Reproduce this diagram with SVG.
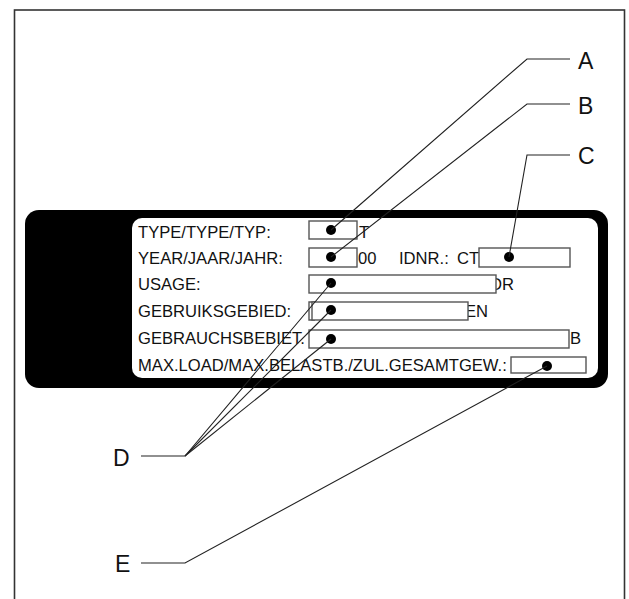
<svg xmlns="http://www.w3.org/2000/svg" width="629" height="599" viewBox="0 0 629 599">
<style>
.t{font-family:"Liberation Sans",Arial,sans-serif;font-size:16.6px;fill:#111}
.lbl{font-family:"Liberation Sans",Arial,sans-serif;font-size:23px;fill:#111}
.box{fill:#fff;stroke:#555;stroke-width:1.4}
.dot{fill:#000}
.ld{fill:none;stroke:#222;stroke-width:1.1}
</style>
<rect x="14.5" y="10" width="610" height="600" fill="#fff" stroke="#333" stroke-width="1.6"/>
<g id="plate">
<rect x="25" y="210" width="583" height="178" rx="14" fill="#000"/>
<rect x="132" y="218" width="466" height="160" rx="10" fill="#fff"/>
<text class="t" x="138" y="238">TYPE/TYPE/TYP:</text>
<text class="t" x="359" y="238">T</text>
<text class="t" x="138" y="264">YEAR/JAAR/JAHR:</text>
<text class="t" x="358" y="264">00</text>
<text class="t" x="399" y="264">IDNR.:</text>
<text class="t" x="457" y="264">CT</text>
<text class="t" x="138" y="290">USAGE:</text>
<text class="t" x="490" y="290">DR</text>
<text class="t" x="138" y="317">GEBRUIKSGEBIED:</text>
<text class="t" x="465" y="317">EN</text>
<text class="t" x="138" y="344">GEBRAUCHSBEBIET.</text>
<text class="t" x="570" y="344">B</text>
<text class="t" x="138" y="371">MAX.LOAD/MAX.BELASTB./ZUL.GESAMTGEW.:</text>
</g>
<g id="fields">
<rect class="box" x="309" y="221" width="48" height="18"/>
<rect class="box" x="309" y="248" width="48" height="19"/>
<rect class="box" x="479" y="248" width="91" height="19"/>
<rect class="box" x="309" y="275" width="187" height="18"/>
<path d="M315 302 H309 V320 H315" fill="none" stroke="#555" stroke-width="1.4"/>
<rect class="box" x="312" y="302" width="156" height="18"/>
<rect class="box" x="309" y="330" width="260" height="18"/>
<rect class="box" x="511" y="357" width="75" height="16"/>
<circle class="dot" cx="331" cy="230" r="5"/>
<circle class="dot" cx="331" cy="257" r="5"/>
<circle class="dot" cx="509" cy="257" r="5"/>
<circle class="dot" cx="331" cy="283" r="5"/>
<circle class="dot" cx="331" cy="310" r="5"/>
<circle class="dot" cx="331" cy="339" r="5"/>
<circle class="dot" cx="547" cy="366" r="5"/>
</g>
<g id="connectors">
<polyline class="ld" points="570,59 527,59 331,230"/>
<polyline class="ld" points="570,104 527,104 331,257"/>
<polyline class="ld" points="570,155 527,155 509,257"/>
<polyline class="ld" points="141,456 185,456 331,283"/>
<line class="ld" x1="185" y1="456" x2="331" y2="310"/>
<line class="ld" x1="185" y1="456" x2="331" y2="339"/>
<polyline class="ld" points="141,563 185,563 547,366"/>
</g>
<g id="label-A"><text class="lbl" x="578" y="69">A</text></g>
<g id="label-B"><text class="lbl" x="578" y="114">B</text></g>
<g id="label-C"><text class="lbl" x="578" y="164">C</text></g>
<g id="label-D"><text class="lbl" x="113" y="466">D</text></g>
<g id="label-E"><text class="lbl" x="115" y="572">E</text></g>
</svg>
